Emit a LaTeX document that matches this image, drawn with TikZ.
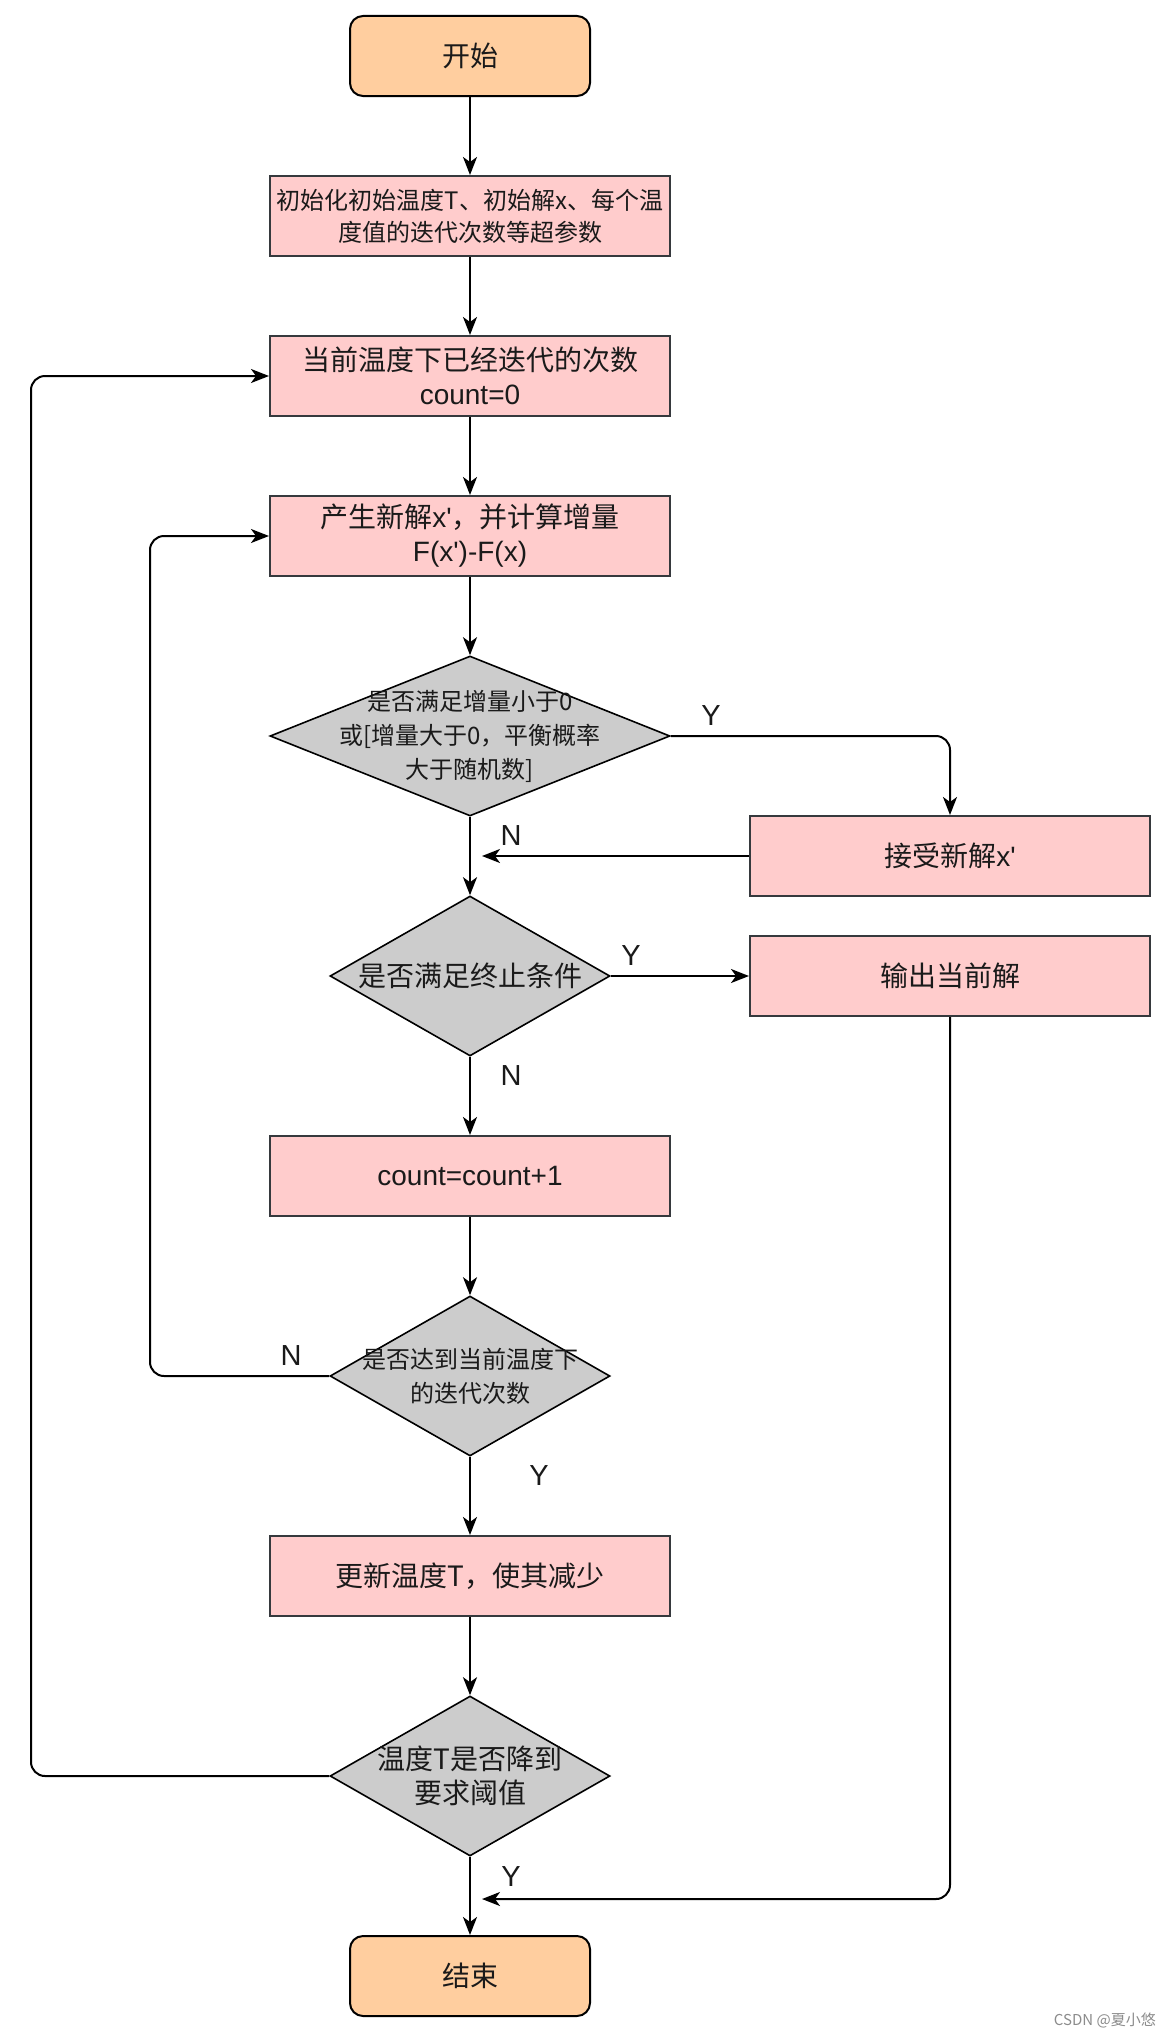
\documentclass[tikz,border=0pt]{standalone}
\usepackage{fontspec}
\setmainfont{Noto Sans CJK SC}
\newfontfamily\lat{Liberation Sans}
\usetikzlibrary{shapes.geometric,arrows.meta}
\definecolor{startfill}{HTML}{FFCE9F}
\definecolor{boxfill}{HTML}{FFCCCC}
\definecolor{diafill}{HTML}{CCCCCC}
\definecolor{edgegray}{HTML}{36393D}
\definecolor{txt}{HTML}{1A1A1A}
\tikzset{
  term/.style={draw=black, fill=startfill, rounded corners=13pt, line width=2pt,
    minimum width=240pt, minimum height=80pt, inner sep=0pt, font=\fontsize{28}{34}\selectfont, text=txt},
  proc/.style={draw=edgegray, fill=boxfill, line width=2pt,
    minimum width=400pt, minimum height=80pt, inner sep=0pt, align=center, text=txt},
  dia/.style={draw=black, fill=diafill, diamond, line width=1.6pt, inner sep=0pt},
  diatext/.style={align=center, text=txt, inner sep=0pt},
  conn/.style={draw=black, line width=2pt, -{Stealth[length=18pt,width=14pt,inset=5pt]}},
  lbl/.style={font=\lat\fontsize{29}{32}\selectfont, text=txt, inner sep=0pt},
  big/.style={font=\fontsize{28}{34}\selectfont},
  small/.style={font=\fontsize{24}{32}\selectfont},
}
\begin{document}
\begin{tikzpicture}[x=1pt,y=-1pt]
\useasboundingbox (0,0) rectangle (1168,2034);
\fill[white] (0,0) rectangle (1168,2034);

\node[term] (start) at (470,56) {开始};
\node[proc, small] (init) at (470,216) {初始化初始温度T、初始解x、每个温\\度值的迭代次数等超参数};
\node[proc, big] (cnt0) at (470,376) {当前温度下已经迭代的次数\\{\lat count=0}};
\node[proc, big] (gen) at (470,536) {产生新解{\lat x'}，并计算增量\\{\lat F(x')-F(x)}};
\node[dia, minimum width=400pt, minimum height=160pt] (d1) at (470,736) {};
\node[diatext, font=\fontsize{24}{34}\selectfont] (d1t) at (470,736) {是否满足增量小于0\\或[增量大于0，平衡概率\\大于随机数]};
\node[proc, big] (acc) at (950,856) {接受新解{\lat x'}};
\node[dia, minimum width=280pt, minimum height=160pt] (d2) at (470,976) {};
\node[diatext, big] (d2t) at (470,976) {是否满足终止条件};
\node[proc, big] (out) at (950,976) {输出当前解};
\node[proc, font=\lat\fontsize{28}{34}\selectfont] (cnt) at (470,1176) {count=count+1};
\node[dia, minimum width=280pt, minimum height=160pt] (d3) at (470,1376) {};
\node[diatext, font=\fontsize{24}{34}\selectfont] (d3t) at (470,1376) {是否达到当前温度下\\的迭代次数};
\node[proc, big] (upd) at (470,1576) {更新温度T，使其减少};
\node[dia, minimum width=280pt, minimum height=160pt] (d4) at (470,1776) {};
\node[diatext, big] (d4t) at (470,1776) {温度T是否降到\\要求阈值};
\node[term] (end) at (470,1976) {结束};

\coordinate (jn1) at (482,856);
\coordinate (jn2) at (482,1899);

\draw[conn] (start) -- (init);
\draw[conn] (init) -- (cnt0);
\draw[conn] (cnt0) -- (gen);
\draw[conn] (gen) -- (d1);
\draw[conn] (d1) -- (d2);
\draw[conn, rounded corners=14pt] (d1.east) -| (acc.north);
\draw[conn] (acc.west) -- (jn1);
\draw[conn] (d2.east) -- (out.west);
\draw[conn] (d2) -- (cnt);
\draw[conn] (cnt) -- (d3);
\draw[conn] (d3) -- (upd);
\draw[conn] (upd) -- (d4);
\draw[conn] (d4) -- (end);
\draw[conn, rounded corners=14pt] (d3.west) -- (150,1376) -- (150,536) -- (gen.west);
\draw[conn, rounded corners=14pt] (d4.west) -- (31,1776) -- (31,376) -- (cnt0.west);
\draw[conn, rounded corners=14pt] (out.south) -- (950,1899) -- (jn2);

\node[lbl] (y1) at (711,716) {Y};
\node[lbl] (n1) at (511,836) {N};
\node[lbl] (y2) at (631,956) {Y};
\node[lbl] (n2) at (511,1076) {N};
\node[lbl] (n3) at (291,1356) {N};
\node[lbl] (y3) at (539,1476) {Y};
\node[lbl] (y4) at (511,1876) {Y};

\node[font=\fontsize{15}{17}\selectfont, text=black!45, anchor=east, inner sep=0pt] (wm) at (1156,2020) {CSDN @夏小悠};
\end{tikzpicture}
\end{document}
